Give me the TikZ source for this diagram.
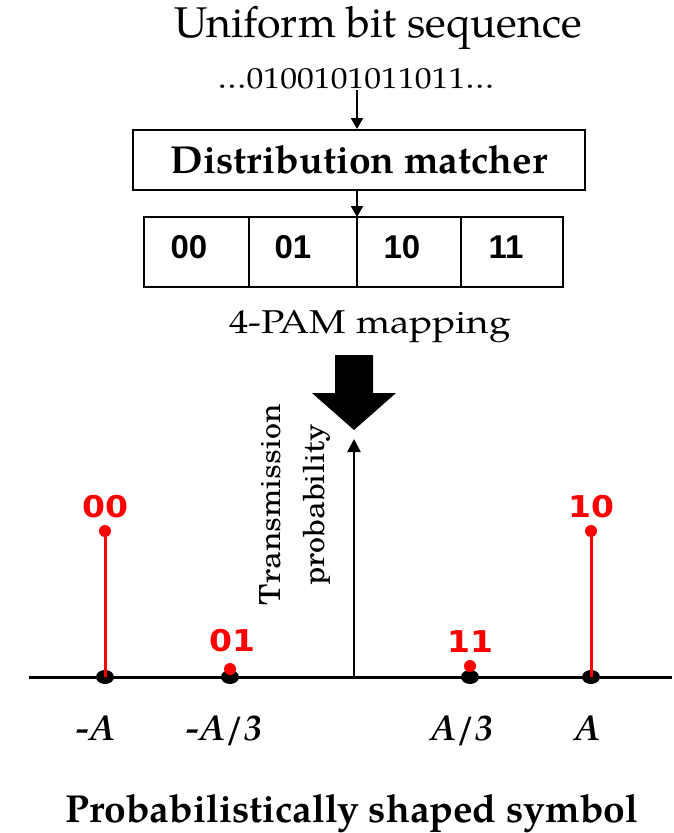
\documentclass[tikz,border=0pt]{standalone}
\usepackage{fontspec}
\setmainfont{TeX Gyre Pagella}
\newfontfamily\scholafont{TeX Gyre Schola}
\newfontfamily\cellfont{Liberation Sans}
\newfontfamily\redfont{DejaVu Sans}
\usetikzlibrary{arrows.meta,shapes.geometric}

% horizontally widened text
\newcommand{\wide}[2]{\scalebox{#1}[1]{#2}}

\begin{document}
\begin{tikzpicture}[x=1pt,y=-1pt,
  txt/.style={inner sep=1pt, anchor=base},
  cell/.style={draw, line width=2pt, minimum height=70pt, inner sep=0pt, outer sep=0pt},
  celltxt/.style={font=\cellfont\bfseries\fontsize{33}{33}\selectfont, anchor=base, inner sep=0pt},
  thinarrow/.style={line width=2pt, -{Triangle[length=11pt,width=12pt]}},
  redlbl/.style={text=red, font=\redfont\bfseries\fontsize{30}{30}\selectfont, anchor=base, inner sep=0pt},
  axlbl/.style={font=\bfseries\itshape\fontsize{36}{36}\selectfont, anchor=base, inner sep=0pt},
  bdot/.style={ellipse, fill=black, minimum width=18pt, minimum height=14pt, inner sep=0pt},
  rdot/.style={circle, fill=red, minimum size=12pt, inner sep=0pt},
  stem/.style={red, line width=3pt}]
\useasboundingbox (0,0) rectangle (674,833);

% header text
\node[txt, font=\fontsize{43}{43}\selectfont] (title) at (378,37) {Uniform bit sequence};
\node[txt, font=\fontsize{29}{29}\selectfont] (bits) at (356,88) {\wide{1.16}{\ldots0100101011011\ldots}};

% distribution matcher block
\node[draw, line width=2pt, minimum width=452pt, minimum height=60pt, inner sep=0pt,
      font=\bfseries\fontsize{39}{39}\selectfont] (dm) at (359,160) {Distribution matcher};

% 4-PAM label cells
\node[cell, minimum width=105pt] (c00) at (196.5,252) {};
\node[cell, minimum width=108pt] (c01) at (303,252) {};
\node[cell, minimum width=104pt] (c10) at (409,252) {};
\node[cell, minimum width=102pt] (c11) at (512,252) {};
\node[celltxt] (t00) at (189,258) {00};
\node[celltxt] (t01) at (293,258) {01};
\node[celltxt] (t10) at (402,258) {10};
\node[celltxt] (t11) at (506,258) {11};

\draw[thinarrow] (c10.north west |- bits.south) -- (c10.north west |- dm.north);
\draw[thinarrow] (c10.north west |- dm.south) -- (c10.north west);

\node[txt, font=\fontsize{33}{33}\selectfont] (pam) at (370,333) {\wide{1.17}{4-PAM mapping}};

% block arrow
\fill (335,355) -- (373,355) -- (373,393) -- (396,393) -- (354,430) -- (312,393) -- (335,393) -- cycle;

% axes
\coordinate (xl) at (29,677);
\coordinate (xr) at (672,677);
\coordinate (o) at (354,677);
\coordinate (ytip) at (354,439);
\draw[line width=3pt] (xl) -- (xr);
\draw[line width=2.5pt, -{Triangle[length=13pt,width=13pt]}] (o) -- (ytip);

\node[rotate=90, align=center, inner sep=0pt,
      font=\scholafont\fontsize{29}{44}\selectfont] (yl) at (295,505)
  {\wide{1.1}{Transmission}\\\wide{1.1}{probability}};

% constellation points
\node[bdot] (b1) at (105,677) {};
\node[bdot] (b2) at (230,677) {};
\node[bdot] (b3) at (470,677) {};
\node[bdot] (b4) at (591,677) {};
\draw[stem] (b1.center) -- (105,531) coordinate (s1);
\draw[stem] (b4.center) -- (591,531) coordinate (s4);
\node[rdot] (r1) at (s1) {};
\node[rdot] (r4) at (s4) {};
\node[rdot] (r2) at (230,669) {};
\node[rdot] (r3) at (470,666) {};

\node[redlbl] (l00) at (105,517) {\wide{1.1}{00}};
\node[redlbl] (l01) at (232,651) {\wide{1.1}{01}};
\node[redlbl] (l11) at (470,652) {\wide{1.1}{11}};
\node[redlbl] (l10) at (591,517) {\wide{1.1}{10}};

\node[axlbl] (a1) at (95,740) {-A};
\node[axlbl] (a2) at (224,740) {-A/3};
\node[axlbl] (a3) at (462,740) {A/3};
\node[axlbl] (a4) at (587,740) {A};

\node[txt, font=\bfseries\fontsize{39}{39}\selectfont] (caption) at (352,822) {Probabilistically shaped symbol};
\end{tikzpicture}
\end{document}
